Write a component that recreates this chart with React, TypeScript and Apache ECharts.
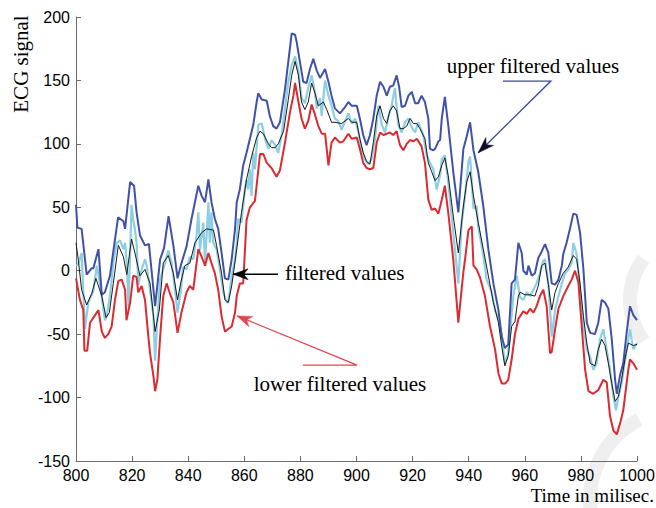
import React, { useEffect, useRef } from "react";
import * as echarts from "echarts";

// [time (ms), ECG value]
const upperFiltered: [number, number][] = [
  [800,52],[800.5,34],[802,33],[803.8,-3],[805.6,2],[806.2,2],[808,17],[809.2,-19],[810.3,-17],[812.1,-4],[815,42],[816.9,39],[817.5,33],[819.3,70],[820.7,67],[821.6,46],[822.8,28],[824.6,20],[826,21],[828.2,-28],[830,9],[831.4,18],[833,43],[834.7,20],[836.2,-6],[837.6,6],[839.4,19],[841.2,41],[843.6,67],[844.8,59],[846,54],[847.2,72],[848.3,54],[849.5,41],[850.7,33],[851.9,14],[853.1,-6],[854.3,-7],[855.5,9],[856.7,33],[857.3,54],[858.4,64],[859.6,83],[860.8,93],[862,104],[863.2,115],[864.4,133],[865,140],[866.2,135],[868,134],[869.1,122],[870.3,114],[871.5,112],[872.7,117],[874.5,143],[875.7,165],[876.9,187],[878.1,186],[878.7,180],[879.8,165],[881,149],[882.2,148],[883.4,159],[884.6,167],[885.8,158],[887,152],[888.8,159],[890,149],[891.1,138],[892.3,128],[894.1,124],[895.9,129],[897.1,133],[898.3,130],[900.1,130],[901.2,120],[902.4,107],[903.6,99],[904.8,107],[906,120],[907.2,138],[908.4,149],[909.6,145],[910.8,138],[911.9,145],[913.1,146],[914.3,154],[915.2,145],[916.1,129],[917.3,130],[918.5,138],[919.7,141],[920.9,132],[922,132],[923.2,138],[924.4,133],[925.6,120],[926.2,96],[927.4,95],[928,96],[929.2,102],[929.8,103],[930.4,120],[931.5,137],[932.7,115],[934.5,78],[936.3,46],[938.1,96],[939.3,106],[940.5,117],[941.7,95],[943.4,78],[945.2,51],[947,17],[948.8,-10],[950.6,-31],[951.8,-52],[952.9,-61],[954.1,-58],[955.3,-10],[956.5,-7],[957.7,22],[958.9,14],[959.5,0],[960.7,-3],[961.3,4],[962.5,-4],[963.6,-2],[964.8,10],[966,15],[967.2,21],[968.4,14],[969.6,-10],[970.8,-11],[972,-7],[973.2,4],[973.7,13],[974.9,22],[976.1,33],[977.3,45],[978.5,44],[979.7,30],[980.9,1],[982.1,-41],[983.3,-49],[985,-50],[986.2,-41],[987.4,-23],[988.6,-25],[989.8,-30],[991,-54],[992.2,-86],[992.8,-97],[994,-82],[995.1,-73],[996.3,-49],[997.5,-28],[998.7,-35],[1000,-39]
];

const lowerFiltered: [number, number][] = [
  [800,-6],[801.4,-23],[802.6,-31],[803,-63],[804,-63],[805,-41],[806.8,-35],[808,-31],[809.2,-48],[810.3,-53],[811.5,-50],[812.7,-44],[813.9,-23],[815.1,-8],[816.3,-7],[817.5,-15],[818,-39],[819.3,-25],[820.4,-4],[821.6,-5],[822.2,-17],[823.4,-12],[824.6,-23],[825.8,-52],[826.4,-65],[827.6,-83],[828.2,-95],[829,-86],[830,-52],[831.1,-20],[832.3,-10],[833.5,-18],[834.7,-25],[836.2,-49],[837.6,-33],[839.4,-17],[840.6,-12],[841.8,-15],[843.6,17],[844.8,11],[846,4],[847.2,14],[848.3,6],[849.5,-2],[850.7,-15],[851.9,-36],[853.1,-48],[854.3,-46],[855.5,-44],[856.7,-33],[857.3,-20],[858.4,-10],[859.6,-10],[860.8,40],[862,50],[863.8,55],[865.6,92],[866.8,92],[868,85],[869.7,81],[871.5,74],[872.7,79],[874.5,101],[876.3,125],[877.5,138],[878.1,148],[879.3,133],[880.4,120],[881.6,112],[882.8,118],[884,131],[885.2,123],[886.4,114],[887.6,108],[888.8,108],[890,83],[891.1,101],[892.3,105],[894.1,101],[895.3,102],[897.1,108],[898.3,104],[900.1,105],[901.2,96],[902.4,85],[903.6,81],[904.8,80],[906,81],[907.2,101],[908.4,109],[909.6,107],[910.8,108],[911.9,109],[913.1,107],[914.3,110],[915.5,99],[916.7,95],[917.9,100],[919.1,103],[920.3,102],[921.5,104],[923.2,98],[924.4,85],[925.6,56],[926.8,48],[928,49],[929.2,45],[930.4,56],[931.5,67],[932.7,46],[934.5,9],[936.3,-41],[938.1,-1],[938.7,9],[939.9,32],[941.1,35],[941.7,4],[942.8,1],[944,-5],[945.8,-20],[947.6,-44],[949.4,-62],[950.6,-81],[951.8,-89],[953,-89],[954.1,-86],[955.3,-70],[956.5,-50],[957.7,-38],[958.3,-36],[959.5,-32],[960.7,-34],[961.9,-30],[963.1,-33],[964.2,-28],[965.4,-20],[966.6,-15],[967.8,-28],[969,-65],[969.6,-64],[970.8,-46],[972,-30],[973.7,-20],[975.5,-12],[976.7,-7],[977.9,0],[979.1,-9],[980.3,-44],[981.5,-78],[982.7,-95],[984.4,-97],[986.2,-94],[988,-86],[989.2,-88],[990.4,-115],[991.6,-126],[992.8,-129],[994,-120],[995.1,-110],[996.9,-78],[997.5,-70],[998.7,-73],[1000,-78]
];

const filteredValues: [number, number][] = [
  [800,22],[800.8,9],[802,-15],[803.8,-27],[805.6,-18],[807.1,-6],[809.2,-20],[810.7,-37],[811.9,-33],[813.3,-10],[815.1,20],[816.9,11],[818.1,-3],[819.8,25],[821,14],[822.8,-4],[824.6,1],[826.4,-10],[828.2,-48],[829.7,-31],[831.1,6],[832.9,12],[834.7,-2],[836.2,-23],[837.4,-9],[838.8,4],[840.6,6],[842.4,22],[844.8,30],[846.6,33],[849,32],[850.1,20],[851.9,-2],[853.1,-23],[854.3,-25],[855.5,-12],[857.3,17],[859,46],[860.8,72],[862.6,90],[864.4,105],[865.6,110],[866.8,108],[868.6,100],[869.7,97],[871,97],[872.1,100],[874,110],[875.7,135],[876.9,154],[878.1,165],[879.3,154],[880.4,133],[881.6,127],[882.8,133],[884,148],[885.2,140],[886.4,130],[888.2,133],[889.4,127],[891.1,117],[892.3,117],[894.7,116],[897.1,120],[898.3,117],[900.1,117],[901.2,104],[902.4,93],[903.6,86],[904.8,84],[906,101],[907.2,122],[908.4,130],[909.6,120],[910.8,116],[911.9,126],[913.1,130],[914.3,126],[915.5,112],[916.7,112],[917.9,114],[919.1,120],[920.3,116],[921.5,116],[922.6,112],[924.4,104],[925.6,85],[926.8,78],[928,71],[929.2,74],[930.4,83],[931.5,89],[932.7,75],[934.5,43],[936.3,14],[938.1,51],[939.3,70],[940.5,78],[941.7,59],[943.4,38],[945.2,17],[947,-4],[948.8,-25],[950.6,-41],[951.8,-60],[952.9,-75],[954.1,-67],[955.3,-44],[956.5,-40],[957.7,-20],[958.3,-17],[960.1,-19],[961.9,-19],[963.6,-20],[964.8,-12],[966,4],[967.2,6],[968.4,-11],[969.6,-31],[970.8,-17],[972,-10],[973.7,-2],[975.5,3],[977.3,12],[978.5,9],[979.7,-10],[980.9,-36],[982.1,-57],[983.3,-73],[985,-75],[986.2,-62],[987.4,-54],[988.6,-59],[989.8,-73],[991,-89],[992.2,-103],[993.4,-99],[994.5,-86],[995.7,-70],[996.9,-57],[998.7,-59],[1000,-58]
];

const rawSignal: [number, number][] = [
  [800,4],[800.8,5],[802,14],[803.2,-46],[804.4,-25],[805,-22],[806.2,-16],[807.4,4],[808.6,-11],[810.3,-39],[810.9,-36],[812.1,-20],[813.3,6],[814.5,22],[815.7,24],[816.9,17],[817.5,22],[818.1,6],[818.7,-28],[819.3,14],[819.8,52],[820.4,40],[821,33],[821.6,22],[822.2,-11],[823.4,1],[824.6,9],[825.2,4],[826.4,-15],[827.6,-36],[828.2,-71],[829,-38],[830,-7],[831.7,6],[832.9,16],[834.1,6],[835.3,-15],[836.2,-33],[837.4,-15],[838.2,3],[839.4,1],[840.6,11],[841.8,9],[843,28],[843.6,46],[844.2,16],[845.4,38],[846,6],[847.2,54],[847.7,22],[848.3,46],[848.9,22],[850.1,17],[851.3,1],[852.5,-17],[853.7,-25],[854.3,-25],[855.5,-4],[856.7,9],[857.3,22],[857.8,41],[859,38],[860.2,64],[860.8,72],[861.4,64],[862,80],[862.6,59],[863.2,93],[863.8,80],[865,115],[866.2,116],[867.4,104],[868.6,96],[869.7,103],[871,99],[872.1,93],[873.3,107],[874.5,128],[875.7,149],[876.9,162],[878.1,169],[879.3,157],[880.4,136],[881.6,132],[882.8,144],[884,154],[885.2,141],[885.8,128],[887,136],[887.6,122],[888.8,150],[890,138],[891.1,130],[892.3,120],[893.5,118],[894.7,111],[895.9,118],[897.1,124],[898.3,116],[899.5,120],[900.7,109],[901.8,96],[903,88],[904.2,84],[905.4,88],[906.6,104],[907.8,130],[909,115],[910.2,109],[911.4,122],[912.5,130],[913.7,144],[914.9,115],[916.1,109],[917.3,117],[918.5,120],[919.7,113],[920.9,109],[922,117],[923.8,107],[925,91],[926.2,85],[927.4,80],[928.6,64],[929.8,75],[930.4,88],[931.5,91],[932.7,70],[934.5,30],[936.3,-10],[937.5,38],[938.7,59],[939.9,86],[940.5,90],[941.7,49],[942.8,51],[943.4,35],[945.2,12],[946.4,-7],[948.2,-17],[949.4,-31],[950.6,-38],[951.8,-52],[952.9,-73],[954.1,-65],[955.9,-20],[957.1,-4],[958.3,-21],[959.5,-23],[960.7,-17],[961.9,-20],[964.2,-10],[965.4,-2],[966.6,8],[967.2,9],[968.4,-10],[969.6,-52],[970.8,-31],[972,-20],[973.2,-10],[974.4,-2],[975.5,1],[976.7,6],[977.3,22],[978.5,13],[979.7,-15],[980.9,-44],[982.1,-62],[983.3,-68],[984.4,-78],[985.6,-73],[986.8,-54],[988,-46],[989.2,-62],[990.4,-78],[991.6,-99],[992.5,-110],[993.4,-99],[994.5,-89],[996.3,-62],[997.5,-46],[998.7,-62],[1000,-57]
];

const xRange = { min: 800, max: 1000, step: 20 };
const yRange = { min: -150, max: 200, step: 50 };

// annotation anchors in data coordinates
const upperNote = { label: "upper filtered values", text: [962.9, 161], lineStart: [952.2, 149.5], elbow: [969.3, 149.5], tip: [943.4, 93] };
const filteredNote = { label: "filtered values", text: [874.5, -1.5], tail: [872, -2.8], tip: [856, -2.8] };
const lowerNote = { label: "lower filtered values", text: [894.1, -89], lineStart: [880.9, -74.4], elbow: [900.2, -74.4], tip: [857.4, -35.6] };

const SERIF = "'Liberation Serif', 'Times New Roman', serif";
const SANS = "'Liberation Sans', Arial, Helvetica, sans-serif";

function arrowHead(tip: number[], from: number[], len: number, width: number, color: string) {
  const dx = tip[0] - from[0];
  const dy = tip[1] - from[1];
  const d = Math.hypot(dx, dy) || 1;
  const ux = dx / d, uy = dy / d;
  const nx = -uy, ny = ux;
  const bx = tip[0] - ux * len, by = tip[1] - uy * len;
  const mx = tip[0] - ux * len * 0.7, my = tip[1] - uy * len * 0.7;
  return {
    type: "polygon",
    shape: { points: [[tip[0], tip[1]], [bx + nx * width / 2, by + ny * width / 2], [mx, my], [bx - nx * width / 2, by - ny * width / 2]] },
    style: { fill: color, stroke: color, lineWidth: 0.5 },
    z: 100,
  };
}

export default function App() {
  const ref = useRef<HTMLDivElement>(null);
  useEffect(() => {
    document.body.style.margin = "0";
    const chart = echarts.init(ref.current!, null, { renderer: "svg" });
    const axisCommon = {
      axisLine: { show: true, onZero: false, lineStyle: { color: "#6b6b6b", width: 1 } },
      axisTick: { show: true, inside: true, length: 5, lineStyle: { color: "#6b6b6b" } },
      splitLine: { show: false },
    };
    chart.setOption({
      animation: false,
      backgroundColor: "#ffffff",
      grid: { left: 76, right: 19, top: 17, bottom: 47, containLabel: false, outerBoundsMode: "none" },
      xAxis: {
        type: "value",
        min: xRange.min,
        max: xRange.max,
        interval: xRange.step,
        ...axisCommon,
        axisLabel: { color: "#000", fontSize: 16, fontFamily: SANS, margin: 6, showMinLabel: true, showMaxLabel: true, formatter: (v: number) => String(v) },
      },
      yAxis: {
        type: "value",
        min: yRange.min,
        max: yRange.max,
        interval: yRange.step,
        ...axisCommon,
        axisLabel: { color: "#000", fontSize: 16, fontFamily: SANS, margin: 6, formatter: (v: number) => String(v) },
      },
      series: [
        { name: "raw", type: "line", data: rawSignal, showSymbol: false, symbol: "none", lineStyle: { color: "#8dcfe2", width: 2.2 }, z: 1 },
        { name: "upper filtered values", type: "line", data: upperFiltered, showSymbol: false, symbol: "none", lineStyle: { color: "#3f52a8", width: 2 }, z: 2 },
        { name: "lower filtered values", type: "line", data: lowerFiltered, showSymbol: false, symbol: "none", lineStyle: { color: "#dc2b30", width: 2 }, z: 2 },
        { name: "filtered values", type: "line", data: filteredValues, showSymbol: false, symbol: "none", lineStyle: { color: "#1a1a1a", width: 1 }, z: 3 },
      ],
    });

    const px = (p: number[]) => chart.convertToPixel({ gridIndex: 0 }, p) as number[];

    const uT = px(upperNote.text), uS = px(upperNote.lineStart), uE = px(upperNote.elbow), uTip = px(upperNote.tip);
    const fT = px(filteredNote.text), fTail = px(filteredNote.tail), fTip = px(filteredNote.tip);
    const lT = px(lowerNote.text), lS = px(lowerNote.lineStart), lE = px(lowerNote.elbow), lTip = px(lowerNote.tip);

    const blueArrow = "#3b4a9c";
    const redArrow = "#e0484d";
    const wm = "#efefef";

    chart.setOption({
      graphic: [
        // faint watermark arcs at the right edge
        { type: "arc", shape: { cx: 700, cy: 300, r: 70, startAngle: Math.PI * 0.8, endAngle: Math.PI * 1.2 }, style: { stroke: wm, lineWidth: 14, fill: null }, z: -10, silent: true },
        { type: "arc", shape: { cx: 680, cy: 500, r: 90, startAngle: Math.PI * 0.95, endAngle: Math.PI * 1.35 }, style: { stroke: wm, lineWidth: 14, fill: null }, z: -10, silent: true },

        { type: "text", x: 21, y: 64, rotation: Math.PI / 2, style: { text: "ECG signal", fontFamily: SERIF, fontSize: 21, fill: "#000", textAlign: "center", textVerticalAlign: "middle" } },
        { type: "text", x: 654, y: 495, style: { text: "Time in milisec.", fontFamily: SERIF, fontSize: 19, fill: "#000", textAlign: "right", textVerticalAlign: "middle" } },

        { type: "text", x: uT[0], y: uT[1], style: { text: upperNote.label, fontFamily: SERIF, fontSize: 21, fill: "#000", textAlign: "center", textVerticalAlign: "middle" } },
        { type: "polyline", shape: { points: [uS, uE, uTip] }, style: { stroke: blueArrow, lineWidth: 1.3, fill: null }, z: 99 },
        arrowHead(uTip, uE, 16, 11, "#0d0d2a"),

        { type: "text", x: fT[0], y: fT[1], style: { text: filteredNote.label, fontFamily: SERIF, fontSize: 21, fill: "#000", textAlign: "left", textVerticalAlign: "middle" } },
        { type: "line", shape: { x1: fTail[0], y1: fTail[1], x2: fTip[0], y2: fTip[1] }, style: { stroke: "#000", lineWidth: 1.3 }, z: 99 },
        arrowHead(fTip, fTail, 15, 11, "#000"),

        { type: "text", x: lT[0], y: lT[1], style: { text: lowerNote.label, fontFamily: SERIF, fontSize: 21, fill: "#000", textAlign: "center", textVerticalAlign: "middle" } },
        { type: "polyline", shape: { points: [lS, lE, lTip] }, style: { stroke: redArrow, lineWidth: 1.3, fill: null }, z: 99 },
        arrowHead(lTip, lE, 15, 11, redArrow),
      ],
    });

    return () => chart.dispose();
  }, []);
  return <div ref={ref} style={{ width: 656, height: 508, position: "absolute", left: 0, top: 0 }} />;
}
